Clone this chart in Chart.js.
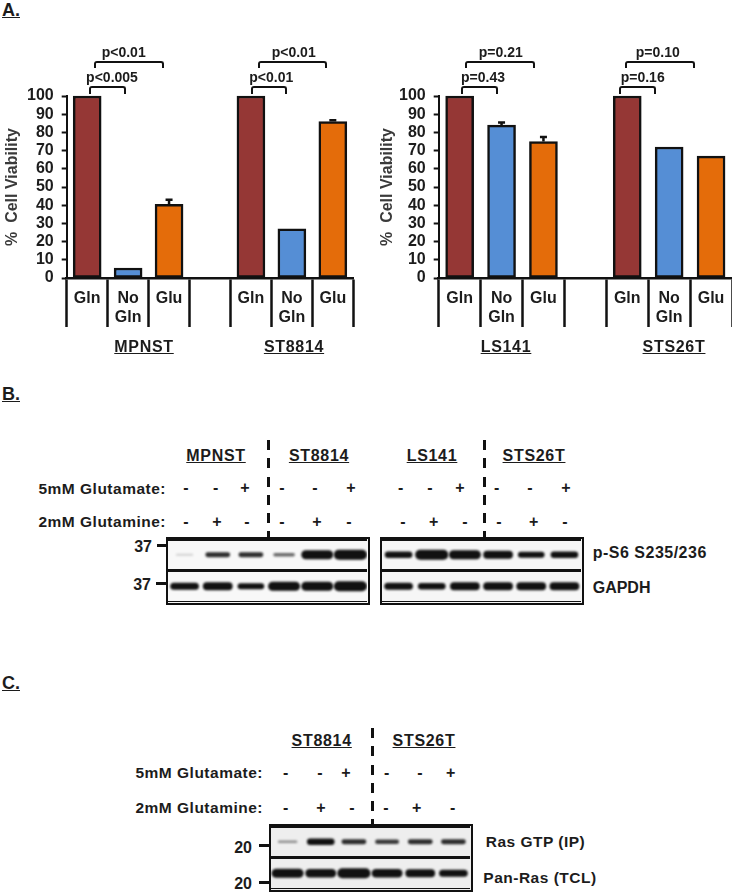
<!DOCTYPE html>
<html>
<head>
<meta charset="utf-8">
<title>Cell viability and blots</title>
<script src="https://cdn.jsdelivr.net/npm/chart.js@4/dist/chart.umd.min.js"></script>
<style>
  html, body { margin: 0; padding: 0; background: #fff; }
  #page { position: relative; width: 732px; height: 896px; overflow: hidden; font-family: "Liberation Sans", Arial, sans-serif; font-weight: bold; color: #1c1c1c; }
  canvas { display: block; }
  .chartBox { position: absolute; }
  .txt { position: absolute; white-space: nowrap; line-height: 1; }
  .bracket { position: absolute; box-sizing: border-box; border: 2.5px solid #111; border-bottom: none; border-radius: 3px 3px 0 0; }
  .panel { position: absolute; box-sizing: border-box; border: 2.5px solid #111; }
  .tick { position: absolute; height: 2.5px; background: #111; }
  .dash { position: absolute; width: 3px; background: repeating-linear-gradient(to bottom, #111 0, #111 10px, transparent 10px, transparent 18.3px); }
</style>
</head>
<body>
<div id="page"></div>
<script>
// bar chart data
const categories = ['Gln', ['No', 'Gln'], 'Glu', '', 'Gln', ['No', 'Gln'], 'Glu'];
const yTicks = [0, 10, 20, 30, 40, 50, 60, 70, 80, 90, 100];
const leftValues = [100, 5.5, 40.5, null, 100, 27, 86];
const leftErrorTops = [null, null, 43, null, null, null, 86.7];
const rightValues = [100, 84, 75, null, 100, 72, 67];
const rightErrorTops = [null, 85.5, 77.5, null, null, null, null];

// blot band darkness per lane, read by eye (0 = nothing, 1 = darkest)
const lanes = [1, 2, 3, 4, 5, 6];
const ps6Left = [0.05, 0.6, 0.6, 0.4, 0.95, 1];
const gapdhLeft = [0.8, 0.85, 0.7, 0.95, 0.95, 1];
const ps6Right = [0.75, 1, 0.95, 0.85, 0.7, 0.75];
const gapdhRight = [0.8, 0.75, 0.85, 0.85, 0.85, 0.85];
const rasGtp = [0.25, 0.75, 0.6, 0.55, 0.6, 0.6];
const panRas = [0.95, 0.9, 1, 0.9, 0.85, 0.8];

const barColors = ['#953735', '#558ed5', '#e46c0a', '#000', '#953735', '#558ed5', '#e46c0a'];
const page = document.getElementById('page');

function addText(text, x, y, size, anchor, extra) {
  const d = document.createElement('div');
  d.className = 'txt';
  d.textContent = text;
  d.style.left = x + 'px';
  d.style.top = y + 'px';
  d.style.fontSize = size + 'px';
  const shift = anchor === 'center' ? '-50%' : anchor === 'right' ? '-100%' : '0';
  d.style.transform = 'translate(' + shift + ',-50%)';
  if (extra) Object.assign(d.style, extra);
  page.appendChild(d);
}

function addBracket(x1, x2, top, height) {
  const d = document.createElement('div');
  d.className = 'bracket';
  d.style.cssText = 'left:' + x1 + 'px;top:' + top + 'px;width:' + (x2 - x1) + 'px;height:' + height + 'px';
  page.appendChild(d);
}

function addTick(x1, x2, y) {
  const d = document.createElement('div');
  d.className = 'tick';
  d.style.cssText = 'left:' + x1 + 'px;width:' + (x2 - x1) + 'px;top:' + y + 'px';
  page.appendChild(d);
}

function addDash(x, y1, y2) {
  const d = document.createElement('div');
  d.className = 'dash';
  d.style.cssText = 'left:' + x + 'px;top:' + y1 + 'px;height:' + (y2 - y1) + 'px';
  page.appendChild(d);
}

function addCanvas(parent, left, top, width, height) {
  const box = document.createElement('div');
  box.className = 'chartBox';
  box.style.cssText = 'left:' + left + 'px;top:' + top + 'px;width:' + width + 'px;height:' + height + 'px';
  const canvas = document.createElement('canvas');
  canvas.width = width;
  canvas.height = height;
  box.appendChild(canvas);
  parent.appendChild(box);
  return canvas;
}

// error bars only go upward, like the original
const errorBarPlugin = {
  id: 'errorBars',
  afterDatasetsDraw(chart, args, opts) {
    const ctx = chart.ctx;
    const meta = chart.getDatasetMeta(0);
    ctx.save();
    ctx.strokeStyle = '#111';
    ctx.lineWidth = 2.5;
    opts.tops.forEach(function (top, i) {
      if (top === null) return;
      const x = meta.data[i].x;
      const y = chart.scales.y.getPixelForValue(top);
      ctx.beginPath();
      ctx.moveTo(x, meta.data[i].y);
      ctx.lineTo(x, y);
      ctx.moveTo(x - 3.5, y);
      ctx.lineTo(x + 3.5, y);
      ctx.stroke();
    });
    ctx.restore();
  }
};

function barChart(left, areaLeft, areaRight, canvasWidth, values, errorTops) {
  // canvas runs from y=70, the plot area from y=96 to y=278
  const canvas = addCanvas(page, left, 70, canvasWidth, 270);
  return new Chart(canvas, {
    type: 'bar',
    data: {
      labels: categories,
      datasets: [{
        data: values,
        backgroundColor: barColors,
        borderColor: '#111',
        borderWidth: 2.5,
        borderSkipped: false,
        barThickness: 28,
        clip: false
      }]
    },
    plugins: [errorBarPlugin],
    options: {
      responsive: false,
      animation: false,
      layout: { padding: { top: 26, right: canvasWidth - areaRight, left: 0, bottom: 0 } },
      plugins: {
        legend: { display: false },
        tooltip: { enabled: false },
        errorBars: { tops: errorTops }
      },
      scales: {
        x: {
          grid: { drawOnChartArea: false, tickLength: 49, tickColor: '#111', tickWidth: 2.5, offset: true },
          border: { color: '#111', width: 2.5 },
          ticks: {
            color: '#1c1c1c', maxRotation: 0, autoSkip: false, padding: -38,
            font: { family: 'Liberation Sans', size: 16, weight: 'bold', lineHeight: 1.2 }
          },
          afterFit(scale) {
            scale.height = 62;
            scale.paddingLeft = 0;
            scale.paddingRight = 0;
          }
        },
        y: {
          min: 0,
          max: 100,
          afterBuildTicks(scale) { scale.ticks = yTicks.map(function (v) { return { value: v }; }); },
          grid: { drawOnChartArea: false, tickLength: 5, tickColor: '#111', tickWidth: 2 },
          border: { color: '#111', width: 2 },
          ticks: {
            color: '#1c1c1c', padding: 8, autoSkip: false,
            font: { family: 'Liberation Sans', size: 16, weight: 'bold' }
          },
          title: {
            display: true,
            text: '%  Cell Viability',
            color: '#3a3a3a',
            padding: { top: 3, bottom: 0 },
            font: { family: 'Liberation Sans', size: 16, weight: 'bold' }
          },
          afterFit(scale) {
            scale.width = areaLeft - left;
            scale.paddingTop = 0;
            scale.paddingBottom = 0;
          }
        }
      }
    }
  });
}

const blurPlugin = {
  id: 'bandBlur',
  beforeDatasetsDraw(chart) { chart.ctx.save(); chart.ctx.filter = 'blur(1.3px)'; },
  afterDatasetsDraw(chart) { chart.ctx.restore(); }
};

function bandDataset(darkness, laneNo, row) {
  const half = (0.45 + 0.25 * darkness) / 2;
  const center = laneNo - 0.5;
  return {
    data: [{ x: center - half, y: row }, { x: center + half, y: row }],
    showLine: true,
    pointRadius: 0,
    borderColor: 'rgba(17,17,17,' + Math.min(1, 0.1 + 1.3 * darkness) + ')',
    borderWidth: 2 + 8 * darkness * darkness,
    borderCapStyle: 'round'
  };
}

function blotChart(left, top, topRow, bottomRow, background) {
  const panel = document.createElement('div');
  panel.className = 'panel';
  panel.style.cssText = 'left:' + left + 'px;top:' + top + 'px;width:204px;height:68px;background:' + background;
  page.appendChild(panel);
  const canvas = addCanvas(panel, 0, 0, 199, 63);
  const datasets = [];
  lanes.forEach(function (laneNo, i) {
    datasets.push(bandDataset(topRow[i], laneNo, 1.5));
    datasets.push(bandDataset(bottomRow[i], laneNo, 0.5));
  });
  return new Chart(canvas, {
    type: 'scatter',
    data: { datasets: datasets },
    plugins: [blurPlugin],
    options: {
      responsive: false,
      animation: false,
      layout: { padding: 0 },
      plugins: { legend: { display: false }, tooltip: { enabled: false } },
      scales: {
        x: { type: 'linear', min: 0, max: 6, display: false },
        y: {
          type: 'linear', min: 0, max: 2,
          ticks: { display: false, stepSize: 1 },
          border: { display: false },
          grid: { color: '#111', lineWidth: 3, drawTicks: false },
          afterFit(scale) { scale.width = 0; }
        }
      }
    }
  });
}

// section letters
addText('A.', 2, 10, 18, 'left', { textDecoration: 'underline' });
addText('B.', 2, 394, 18, 'left', { textDecoration: 'underline' });
addText('C.', 2, 683, 18, 'left', { textDecoration: 'underline' });

// panel A
barChart(0, 66.7, 353.3, 366, leftValues, leftErrorTops);
barChart(375, 438.7, 727, 357, rightValues, rightErrorTops);

addBracket(89, 126, 86, 8);
addBracket(94, 163.5, 61, 7);
addBracket(250.5, 287, 86, 8);
addBracket(257.5, 327, 61, 7);
addBracket(461, 498, 86, 8);
addBracket(465, 534.5, 61, 7);
addBracket(619, 655.5, 86, 8);
addBracket(625, 695, 61, 7);

addText('p<0.01', 123.7, 51.5, 14, 'center');
addText('p<0.005', 112, 76.5, 14, 'center');
addText('p<0.01', 293.7, 51.5, 14, 'center');
addText('p<0.01', 271.3, 76.5, 14, 'center');
addText('p=0.21', 500.8, 51.5, 14, 'center');
addText('p=0.43', 483, 76.5, 14, 'center');
addText('p=0.10', 657.8, 51.5, 14, 'center');
addText('p=0.16', 642.7, 76.5, 14, 'center');

const underlined = { textDecoration: 'underline', letterSpacing: '0.7px' };
const spaced = { letterSpacing: '0.5px' };
addText('MPNST', 144, 347, 16, 'center', underlined);
addText('ST8814', 294, 347, 16, 'center', underlined);
addText('LS141', 506, 347, 16, 'center', underlined);
addText('STS26T', 674, 347, 16, 'center', underlined);

// panel B
addDash(266.5, 440, 538);
addDash(483, 440, 538);
addText('MPNST', 216, 456, 16, 'center', underlined);
addText('ST8814', 319, 456, 16, 'center', underlined);
addText('LS141', 432, 456, 16, 'center', underlined);
addText('STS26T', 534, 456, 16, 'center', underlined);

addText('5mM Glutamate:', 166, 489, 15.5, 'right', spaced);
addText('2mM Glutamine:', 166, 522, 15.5, 'right', spaced);

[['-', 186], ['-', 215.7], ['+', 245], ['-', 282], ['-', 315], ['+', 351],
 ['-', 400.7], ['-', 430], ['+', 460], ['-', 496.7], ['-', 530], ['+', 566]].forEach(function (s) {
  addText(s[0], s[1], 488, 16, 'center');
});
[['-', 186], ['+', 217], ['-', 247], ['-', 282], ['+', 317], ['-', 349],
 ['-', 403], ['+', 433.7], ['-', 465], ['-', 499], ['+', 533.7], ['-', 565]].forEach(function (s) {
  addText(s[0], s[1], 522, 16, 'center');
});

blotChart(166, 537, ps6Left, gapdhLeft, '#f8f8f8');
blotChart(380, 537, ps6Right, gapdhRight, '#f6f6f6');

addText('37', 152, 547, 16, 'right');
addText('37', 151, 585, 16, 'right');
addTick(157, 166, 544);
addTick(156, 166, 582);
addText('p-S6 S235/236', 592.7, 553, 16, 'left', spaced);
addText('GAPDH', 592.7, 588, 16, 'left');

// panel C
addDash(371, 728, 824);
addText('ST8814', 321.7, 741, 16, 'center', underlined);
addText('STS26T', 424, 741, 16, 'center', underlined);

addText('5mM Glutamate:', 263, 773, 15.5, 'right', spaced);
addText('2mM Glutamine:', 263, 808, 15.5, 'right', spaced);

[['-', 285.7], ['-', 320], ['+', 346], ['-', 386.7], ['-', 420], ['+', 450.7]].forEach(function (s) {
  addText(s[0], s[1], 773, 16, 'center');
});
[['-', 285.7], ['+', 321], ['-', 352], ['-', 386], ['+', 416.7], ['-', 452.7]].forEach(function (s) {
  addText(s[0], s[1], 808, 16, 'center');
});

blotChart(269, 824, rasGtp, panRas, '#eeeeee');

addText('20', 252, 848, 16, 'right');
addText('20', 252, 884, 16, 'right');
addTick(259, 269, 844);
addTick(259, 269, 881);
addText('Ras GTP (IP)', 485.7, 842, 15.5, 'left', spaced);
addText('Pan-Ras (TCL)', 483.3, 878, 15.5, 'left', spaced);
</script>
</body>
</html>
